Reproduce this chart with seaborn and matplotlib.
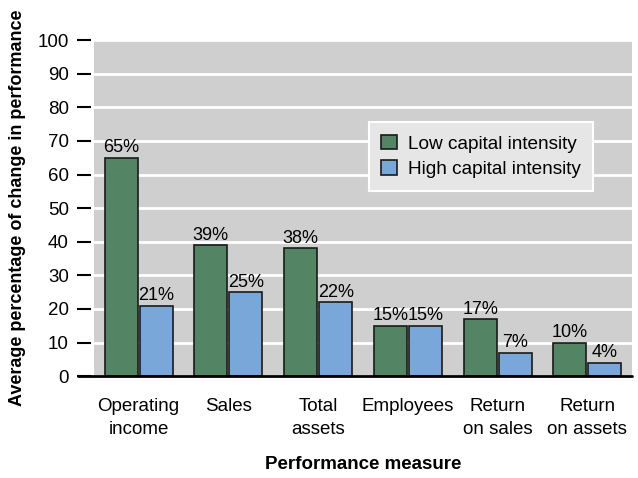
import matplotlib
matplotlib.use("Agg")
import matplotlib.pyplot as plt
import seaborn as sns
import pandas as pd

categories = ["Operating\nincome", "Sales", "Total\nassets", "Employees", "Return\non sales", "Return\non assets"]
low_capital = [65, 39, 38, 15, 17, 10]
high_capital = [21, 25, 22, 15, 7, 4]
series_names = ["Low capital intensity", "High capital intensity"]
y_ticks = [0, 10, 20, 30, 40, 50, 60, 70, 80, 90, 100]

df = pd.DataFrame({
    "Performance measure": categories * 2,
    "value": low_capital + high_capital,
    "series": [series_names[0]] * len(categories) + [series_names[1]] * len(categories),
})

sns.set_theme(style="white")
plt.rcParams["font.family"] = ["Liberation Sans", "DejaVu Sans"]
plt.rcParams["text.color"] = "black"
plt.rcParams["axes.labelcolor"] = "black"
plt.rcParams["xtick.color"] = "black"
plt.rcParams["ytick.color"] = "black"

fig = plt.figure(figsize=(6.38, 4.78), dpi=100)
ax = fig.add_axes([0.147, 0.213, 0.844, 0.703])
ax.set_facecolor("#CFCFCF")

sns.barplot(data=df, x="Performance measure", y="value", hue="series",
            palette=["#538565", "#7AA7D9"], saturation=1, edgecolor="#1a1a1a",
            linewidth=1.2, width=0.78, gap=0.06, ax=ax, zorder=3)

ax.set_ylim(0, 100)
ax.set_yticks(y_ticks)
ax.grid(axis="y", color="white", linewidth=2, zorder=0)
ax.set_axisbelow(True)
for s in ["top", "right", "bottom", "left"]:
    ax.spines[s].set_visible(False)
ax.spines["left"].set_position(("outward", 2))
ax.tick_params(axis="y", direction="out", length=10, width=1.5, color="black",
               labelsize=13.5, pad=6, left=True)
ax.tick_params(axis="x", length=0, labelsize=13.5, pad=16)
for lbl in ax.get_xticklabels():
    lbl.set_linespacing(1.45)
ax.axhline(0, xmin=-0.03, xmax=1, color="black", linewidth=2, clip_on=False, zorder=5)

for cont in ax.containers:
    ax.bar_label(cont, fmt="%d%%", fontsize=13, padding=1)

ax.set_xlabel("Performance measure", fontsize=13.5, fontweight="bold", labelpad=13)
ax.set_ylabel("Average percentage of change in performance", fontsize=13,
              fontweight="bold", labelpad=8)

leg = ax.legend(loc="upper left", bbox_to_anchor=(0.511, 0.755), fontsize=13.7,
                frameon=True, fancybox=False, facecolor="#E6E6E6", edgecolor="white",
                framealpha=1, handlelength=0.8, handleheight=0.8, handletextpad=0.6,
                borderpad=0.65, labelspacing=0.4, borderaxespad=0)
leg.get_frame().set_linewidth(1.5)

fig.savefig("out.png", dpi=100)
